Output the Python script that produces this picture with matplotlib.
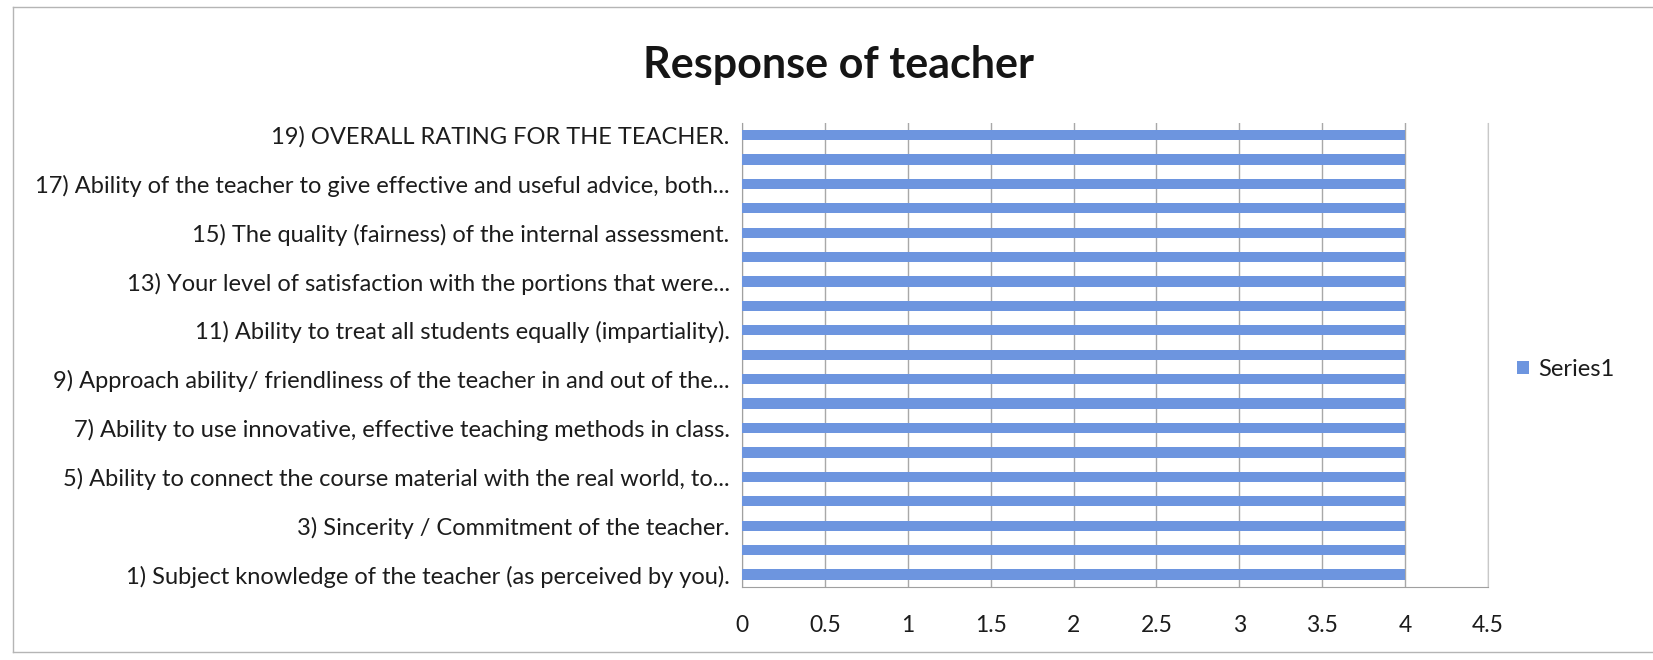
import matplotlib.pyplot as plt
from matplotlib.lines import Line2D

# question numbers 1..19, every question scored 4
questions = list(range(1, 20))
scores = [4, 4, 4, 4, 4, 4, 4, 4, 4, 4, 4, 4, 4, 4, 4, 4, 4, 4, 4]

# Excel only had room to show every other label
shown_questions = [1, 3, 5, 7, 9, 11, 13, 15, 17, 19]
shown_labels = [
    "1) Subject knowledge of the teacher (as perceived by you).",
    "3) Sincerity / Commitment of the teacher.",
    "5) Ability to connect the course material with the real world, to...",
    "7) Ability to use innovative, effective teaching methods in class.",
    "9) Approach ability/ friendliness of the teacher in and out of the...",
    "11) Ability to treat all students equally (impartiality).",
    "13) Your level of satisfaction with the portions that were...",
    "15) The quality (fairness) of the internal assessment.",
    "17) Ability of the teacher to give effective and useful advice, both...",
    "19) OVERALL RATING FOR THE TEACHER.",
]
x_ticks = [0, 0.5, 1, 1.5, 2, 2.5, 3, 3.5, 4, 4.5]
x_ticklabels = ["0", "0.5", "1", "1.5", "2", "2.5", "3", "3.5", "4", "4.5"]

plt.rcParams['font.family'] = ['Lato', 'DejaVu Sans']

fig = plt.figure(figsize=(16.53, 6.6), dpi=100)
ax = fig.add_axes([0.449, 0.111, 0.451, 0.703])

bar_color = '#6d95df'
ax.barh(questions, scores, height=0.42, color=bar_color, label='Series1', zorder=3)

ax.set_xlim(0, 4.5)
ax.set_ylim(0.5, 19.5)
ax.set_xticks(x_ticks)
ax.set_xticklabels(x_ticklabels)
ax.set_yticks(shown_questions)
ax.set_yticklabels(shown_labels)
txt = '#1c1c1c'
ax.tick_params(axis='y', length=0, pad=9, labelsize=17, labelcolor=txt)
ax.tick_params(axis='x', length=0, pad=20, labelsize=16.5, labelcolor=txt)

ax.grid(True, axis='x', color='#a8a8a8', linewidth=1, zorder=0)
ax.set_axisbelow(True)
ax.spines['top'].set_visible(False)
ax.spines['right'].set_color('#c8c8c8')
ax.spines['left'].set_color('#a0a0a0')
ax.spines['bottom'].set_color('#a0a0a0')

fig.text(0.507, 0.902, "Response of teacher", ha='center', va='center',
         fontsize=31, fontweight='bold', color='#151515')

leg = fig.legend(loc='center left', bbox_to_anchor=(0.905, 0.44), frameon=False,
                 fontsize=17, handlelength=0.5, handleheight=0.5, handletextpad=0.4)
for t in leg.get_texts():
    t.set_color(txt)

# outer chart frame
frame = '#b5b5b5'
fig.add_artist(Line2D([0.008, 1.0], [0.989, 0.989], color=frame, lw=1))
fig.add_artist(Line2D([0.008, 0.008], [0.989, 0.012], color=frame, lw=1))
fig.add_artist(Line2D([0.008, 1.0], [0.012, 0.012], color=frame, lw=1))

plt.savefig('out.png', dpi=100)
